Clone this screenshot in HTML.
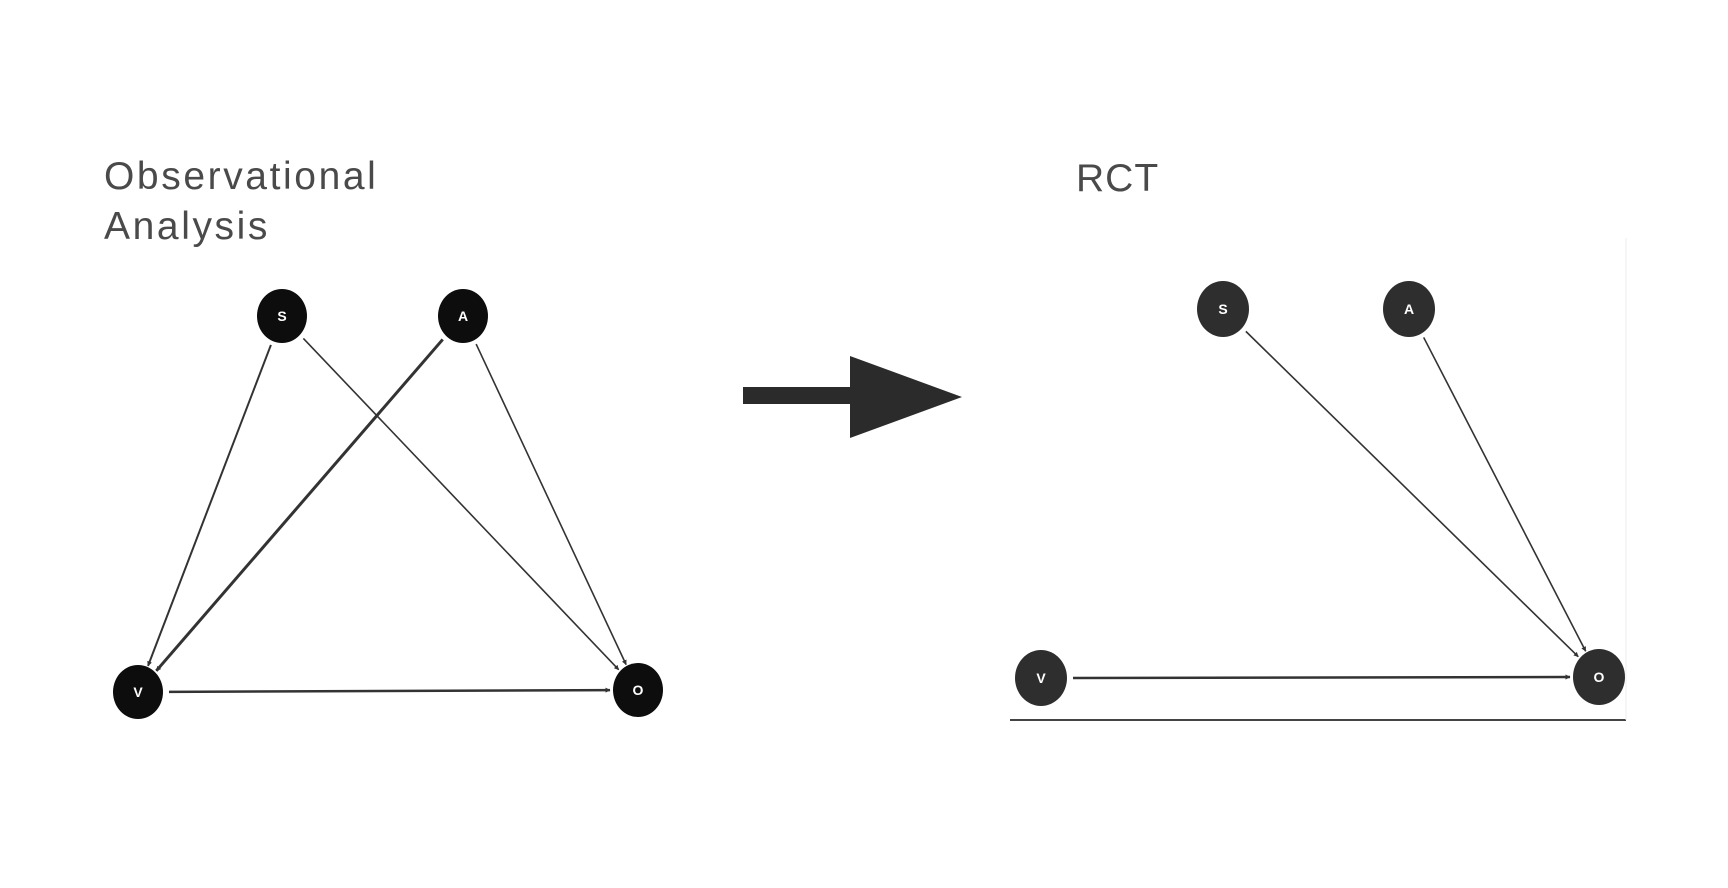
<!DOCTYPE html>
<html><head><meta charset="utf-8">
<style>
html,body{margin:0;padding:0;background:#fff;}
body{width:1728px;height:888px;overflow:hidden;position:relative;font-family:"Liberation Sans",sans-serif;}
.t{position:absolute;color:#4a4a4a;font-size:39px;font-weight:normal;letter-spacing:2.6px;line-height:50px;}
</style></head>
<body>
<div class="t" style="left:104px;top:152px;">Observational<br>Analysis</div>
<div class="t" style="left:1076px;top:154px;letter-spacing:1px;">RCT</div>
<svg id="svg" width="1728" height="888" style="position:absolute;left:0;top:0">
<defs>
<marker id="ah" viewBox="0 0 10 10" refX="9" refY="5" markerWidth="5" markerHeight="5" orient="auto" markerUnits="userSpaceOnUse">
<path d="M0,0 L10,5 L0,10 z" fill="#333"/></marker>
</defs>
<rect x="743" y="387" width="110" height="17" fill="#2b2b2b"/>
<polygon points="850,356 850,438 962,397" fill="#2b2b2b"/>
<line x1="1010" y1="720" x2="1626" y2="720" stroke="#444" stroke-width="2"/>
<line x1="1626" y1="238" x2="1626" y2="720" stroke="#eee" stroke-width="1"/>
</svg>
<script>
const leftNodes = [["S",282,316],["A",463,316],["V",138,692],["O",638,690]];
const leftEdges = [["S","V",2],["S","O",1.6],["A","V",3],["A","O",1.6],["V","O",2.5]];
const rightNodes = [["S",1223,309],["A",1409,309],["V",1041,678],["O",1599,677]];
const rightEdges = [["S","O",1.6],["A","O",1.6],["V","O",2.5]];
const svg = document.getElementById('svg');
const NS = 'http://www.w3.org/2000/svg';
function draw(nodes, edges, r, fill){
  const m = {};
  nodes.forEach(n => m[n[0]] = n);
  edges.forEach(e => {
    const a = m[e[0]], b = m[e[1]];
    const dx = b[1]-a[1], dy = b[2]-a[2], L = Math.hypot(dx,dy);
    const ux = dx/L, uy = dy/L;
    const ln = document.createElementNS(NS,'line');
    ln.setAttribute('x1', a[1]+ux*(r+6)); ln.setAttribute('y1', a[2]+uy*(r+6));
    ln.setAttribute('x2', b[1]-ux*(r+3)); ln.setAttribute('y2', b[2]-uy*(r+3));
    ln.setAttribute('stroke','#333'); ln.setAttribute('stroke-width', e[2]);
    ln.setAttribute('marker-end','url(#ah)');
    
    
    svg.appendChild(ln);
  });
  nodes.forEach(n => {
    const c = document.createElementNS(NS,'ellipse');
    c.setAttribute('cx', n[1]); c.setAttribute('cy', n[2]);
    c.setAttribute('rx', r); c.setAttribute('ry', r+2);
    c.setAttribute('fill', fill);
    
    
    svg.appendChild(c);
    const t = document.createElementNS(NS,'text');
    t.setAttribute('x', n[1]); t.setAttribute('y', n[2]+5);
    t.setAttribute('text-anchor','middle');
    t.setAttribute('font-family','Liberation Sans, sans-serif');
    t.setAttribute('font-weight','bold'); t.setAttribute('font-size','14');
    t.setAttribute('fill','#fff');
    t.textContent = n[0];
    
    
    svg.appendChild(t);
  });
}
draw(leftNodes, leftEdges, 25, '#0d0d0d');
draw(rightNodes, rightEdges, 26, '#2e2e2e');
</script>
</body></html>
